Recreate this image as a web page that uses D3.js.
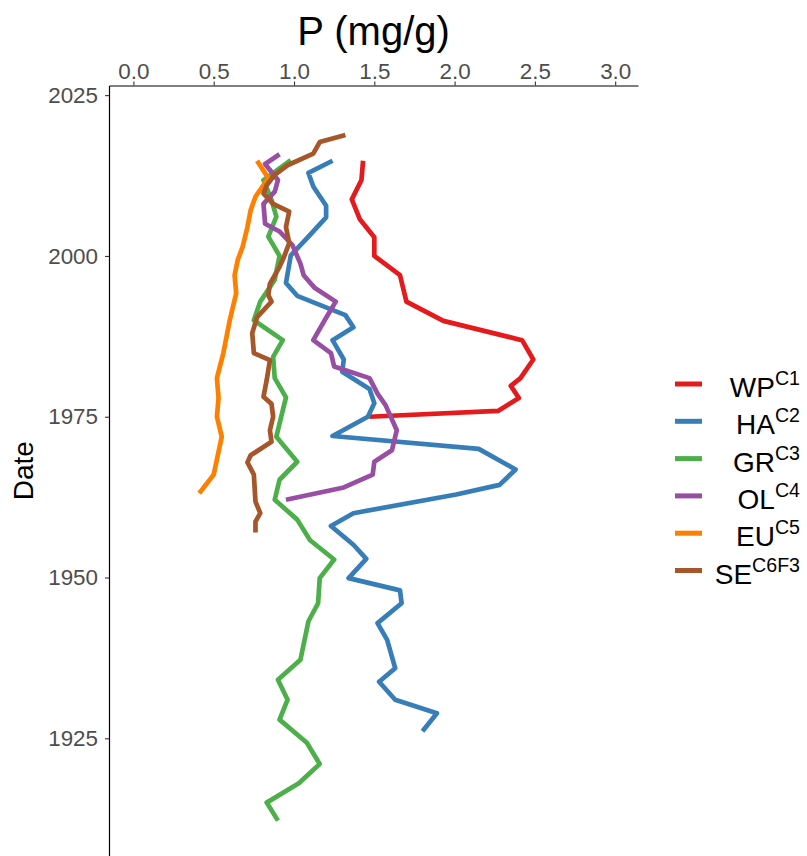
<!DOCTYPE html>
<html>
<head>
<meta charset="utf-8">
<script src="https://cdn.jsdelivr.net/npm/d3@7"></script>
<style>
  body { margin: 0; background: #fff; }
  svg { font-family: "Liberation Sans", Arial, sans-serif; }
</style>
</head>
<body>
<svg id="chart" width="807" height="856"></svg>
<script>
// series: year (Date) and P (mg/g), top of core first
var wpYear = [2014.8, 2011.8, 2008.8, 2005.7, 2002.9, 2000.0, 1997.0, 1992.9, 1989.9, 1986.9, 1983.9, 1981.0, 1979.8, 1977.9, 1975.9, 1975.0];
var wpP    = [1.43, 1.42, 1.36, 1.41, 1.50, 1.50, 1.66, 1.70, 1.93, 2.42, 2.49, 2.41, 2.35, 2.40, 2.27, 1.47];

var haYear = [2014.8, 2012.9, 2010.8, 2007.8, 2006.0, 2003.0, 2000.1, 1995.8, 1993.8, 1990.8, 1988.9, 1986.9, 1983.9, 1982.0, 1979.3, 1977.1, 1975.0, 1972.0, 1970.0, 1966.8, 1964.4, 1962.9, 1960.0, 1958.0, 1955.1, 1952.9, 1949.9, 1948.0, 1946.0, 1942.9, 1940.3, 1935.9, 1933.8, 1931.0, 1928.9, 1926.1];
var haP    = [1.24, 1.09, 1.12, 1.20, 1.20, 1.09, 0.98, 0.95, 1.02, 1.32, 1.37, 1.24, 1.31, 1.30, 1.47, 1.50, 1.46, 1.24, 2.15, 2.38, 2.28, 2.01, 1.37, 1.23, 1.37, 1.45, 1.34, 1.66, 1.67, 1.52, 1.58, 1.63, 1.53, 1.63, 1.89, 1.80];

var grYear = [2014.9, 2011.8, 2008.7, 2006.1, 2003.0, 2000.0, 1996.3, 1992.9, 1990.0, 1986.9, 1984.3, 1981.0, 1978.0, 1971.9, 1968.0, 1965.2, 1962.1, 1959.0, 1955.8, 1952.8, 1949.9, 1946.0, 1943.2, 1937.2, 1934.1, 1931.0, 1927.9, 1924.3, 1921.0, 1918.0, 1915.0, 1912.2];
var grP    = [0.98, 0.81, 0.86, 0.89, 0.84, 0.91, 0.88, 0.79, 0.75, 0.93, 0.87, 0.88, 0.95, 0.89, 1.02, 0.91, 0.88, 1.02, 1.10, 1.25, 1.16, 1.15, 1.09, 1.04, 0.90, 0.96, 0.91, 1.08, 1.16, 1.03, 0.83, 0.90];

var olYear = [2015.8, 2014.3, 2011.8, 2010.0, 2008.1, 2005.0, 2003.8, 2001.7, 1998.8, 1997.0, 1995.0, 1992.9, 1990.4, 1986.9, 1984.9, 1982.8, 1981.0, 1978.6, 1976.8, 1972.9, 1969.8, 1968.0, 1966.0, 1964.0, 1962.1];
var olP    = [0.91, 0.82, 0.90, 0.88, 0.81, 0.82, 0.91, 0.99, 1.04, 1.06, 1.13, 1.26, 1.20, 1.12, 1.23, 1.25, 1.47, 1.52, 1.57, 1.64, 1.61, 1.50, 1.49, 1.31, 0.95];

var euYear = [2014.8, 2012.1, 2009.2, 2007.1, 2004.5, 2001.4, 1999.4, 1997.0, 1994.2, 1990.0, 1984.9, 1981.0, 1977.9, 1975.0, 1971.9, 1966.0, 1963.1];
var euP    = [0.77, 0.84, 0.76, 0.73, 0.71, 0.68, 0.65, 0.63, 0.64, 0.60, 0.56, 0.52, 0.53, 0.52, 0.55, 0.50, 0.41];

var seYear = [2018.8, 2017.7, 2015.9, 2014.1, 2012.6, 2011.0, 2009.7, 2008.1, 2006.9, 2004.5, 2002.0, 2000.0, 1998.3, 1995.7, 1993.9, 1992.9, 1990.5, 1988.0, 1984.9, 1983.8, 1980.7, 1978.1, 1977.0, 1975.0, 1972.9, 1971.1, 1969.0, 1967.9, 1966.0, 1961.8, 1960.0, 1958.7, 1957.0];
var seP    = [1.32, 1.16, 1.12, 0.96, 0.88, 0.83, 0.81, 0.87, 0.97, 0.95, 0.97, 0.94, 0.91, 0.85, 0.84, 0.86, 0.77, 0.74, 0.75, 0.85, 0.83, 0.81, 0.86, 0.87, 0.85, 0.86, 0.73, 0.71, 0.75, 0.76, 0.79, 0.76, 0.76];

var siteNames = ["WP", "HA", "GR", "OL", "EU", "SE"];
var siteSups  = ["C1", "C2", "C3", "C4", "C5", "C6F3"];
var siteColors = ["#E41A1C", "#377EB8", "#4DAF4A", "#984EA3", "#FF7F00", "#A65628"];

var xTicks = [0, 0.5, 1, 1.5, 2, 2.5, 3];
var yTicks = [1925, 1950, 1975, 2000, 2025];

var svg = d3.select('#chart');

// panel edges (x axis on top, y axis on left, panel runs to the bottom edge)
var panelLeft = 109, panelRight = 638, panelTop = 85.5, panelBottom = 856;

var x = d3.scaleLinear().domain([-0.152, 3.142]).range([panelLeft, panelRight]);
var y = d3.scaleLinear().domain([1906.7, 2026.5]).range([panelBottom, panelTop]);

var series = [
  { year: wpYear, p: wpP },
  { year: haYear, p: haP },
  { year: grYear, p: grP },
  { year: olYear, p: olP },
  { year: euYear, p: euP },
  { year: seYear, p: seP }
];

var line = d3.line()
    .x(function(d) { return x(d[1]); })
    .y(function(d) { return y(d[0]); });

// draw the lines, first site at the bottom
series.forEach(function(s, i) {
  var pts = s.year.map(function(yr, j) { return [yr, s.p[j]]; });
  svg.append('path')
     .datum(pts)
     .attr('d', line)
     .attr('fill', 'none')
     .attr('stroke', siteColors[i])
     .attr('stroke-width', 4.7)
     .attr('stroke-linejoin', 'round')
     .attr('stroke-linecap', 'butt');
});

// x axis on top
var xAxis = svg.append('g')
    .attr('transform', 'translate(0,' + panelTop + ')')
    .call(d3.axisTop(x).tickValues(xTicks).tickFormat(d3.format('.1f'))
          .tickSize(4).tickSizeOuter(0).tickPadding(2.5));

// y axis on left
var yAxis = svg.append('g')
    .attr('transform', 'translate(' + panelLeft + ',0)')
    .call(d3.axisLeft(y).tickValues(yTicks).tickFormat(d3.format('d'))
          .tickSize(4).tickSizeOuter(0).tickPadding(7));

[xAxis, yAxis].forEach(function(g) {
  g.select('.domain').attr('stroke', '#000').attr('stroke-width', 1.2);
  g.selectAll('.tick line').attr('stroke', '#333').attr('stroke-width', 1.1);
  g.selectAll('.tick text')
   .attr('fill', '#4d4d4d')
   .style('font-size', '22.4px')
   .style('font-family', '"Liberation Sans", Arial, sans-serif');
});

// axis titles
svg.append('text')
   .attr('x', (panelLeft + panelRight) / 2)
   .attr('y', 44.6)
   .attr('text-anchor', 'middle')
   .style('font-size', '40px')
   .text('P (mg/g)');

svg.append('text')
   .attr('transform', 'translate(33,' + ((panelTop + panelBottom) / 2) + ') rotate(-90)')
   .attr('text-anchor', 'middle')
   .style('font-size', '28px')
   .text('Date');

// legend
var legend = svg.append('g');
siteNames.forEach(function(name, i) {
  var ry = 384 + i * 37.3;
  legend.append('line')
        .attr('x1', 675).attr('x2', 702)
        .attr('y1', ry).attr('y2', ry)
        .attr('stroke', siteColors[i])
        .attr('stroke-width', 5);
  var t = legend.append('text')
        .attr('x', 800)
        .attr('y', ry + 13)
        .attr('text-anchor', 'end')
        .style('font-size', '28px');
  t.append('tspan').text(name);
  t.append('tspan')
   .attr('dy', -12)
   .style('font-size', '19.6px')
   .text(siteSups[i]);
});
</script>
</body>
</html>
